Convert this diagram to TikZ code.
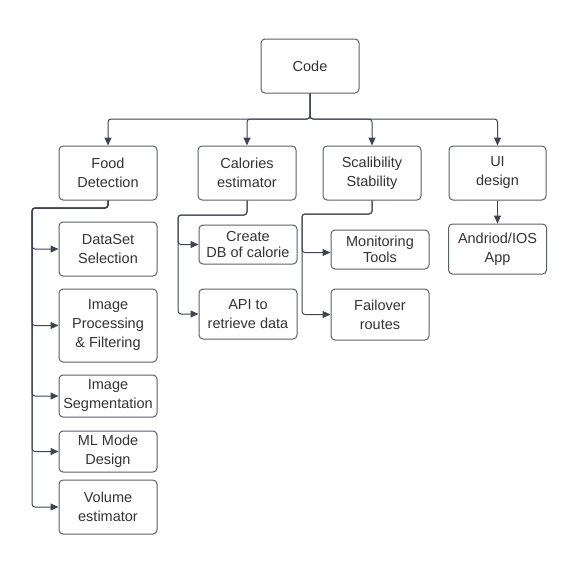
\documentclass[tikz,border=0pt]{standalone}
\usepackage{fontspec}
\setmainfont{Liberation Sans}
\usetikzlibrary{arrows.meta}
\definecolor{linec}{HTML}{3E4451}
\definecolor{boxc}{HTML}{5C6068}
\definecolor{txtc}{HTML}{333333}
\tikzset{
  box/.style={draw=boxc, line width=1pt, rounded corners=4pt, fill=white,
    minimum width=98pt, inner sep=0pt, align=center, text=txtc,
    font=\fontsize{14.5}{19}\selectfont},
  tight/.style={font=\fontsize{14.5}{16.5}\selectfont},
  conn/.style={draw=linec, line width=1pt, rounded corners=3pt},
  arr/.style={conn, -{Triangle[length=8pt,width=7pt]}}
}
\begin{document}
\begin{tikzpicture}[x=1pt,y=-1pt]
\useasboundingbox (0,0) rectangle (587,574);
% root
\node[box, minimum height=54pt] (code) at (310,66) {Code};
% level 1
\node[box, minimum height=54pt] (food) at (108,173) {Food\\Detection};
\node[box, minimum height=54pt] (cal) at (247,173) {Calories\\estimator};
\node[box, minimum height=54pt] (scal) at (372,173) {Scalibility\\Stability};
\node[box, minimum height=54pt, minimum width=97pt] (ui) at (497.5,173) {UI\\design};
% food children
\node[box, minimum height=54pt] (data) at (108,249) {DataSet\\Selection};
\node[box, minimum height=73pt] (proc) at (108,325.5) {Image\\Processing\\\& Filtering};
\node[box, minimum height=42pt] (seg) at (108,396) {Image\\Segmentation};
\node[box, minimum height=41pt] (ml) at (108,451.5) {ML Mode\\Design};
\node[box, minimum height=54pt] (vol) at (108,507) {Volume\\estimator};
% calories children
\node[box, tight, minimum height=39pt] (db) at (248,244.5) {Create\\DB of calorie};
\node[box, minimum height=50pt] (api) at (248,314) {API to\\retrieve data};
% scal children
\node[box, tight, minimum height=39pt] (mon) at (380,249.5) {Monitoring\\Tools};
\node[box, minimum height=51pt] (fail) at (380,314.5) {Failover\\routes};
% ui child
\node[box, minimum height=50pt] (app) at (497.5,249) {Andriod/IOS\\App};
% hubs
\coordinate (hub) at (310,119);
\coordinate (fh) at (32,208);
\coordinate (ch) at (178,215);
\coordinate (sh) at (302,214);
% root connectors
\draw[arr] (code.south) -- (hub) -| (food.north);
\draw[arr] (code.south) -- (hub) -| (cal.north);
\draw[arr] (code.south) -- (hub) -| (scal.north);
\draw[arr] (code.south) -- (hub) -| (ui.north);
% food connectors
\foreach \t in {data,proc,seg,ml,vol}{
  \draw[arr] (food.south) |- (fh) |- (\t.west);
}
% calories connectors
\draw[arr] (cal.south) |- (ch) |- (db.west);
\draw[arr] (cal.south) |- (ch) |- (api.west);
% scal connectors
\draw[arr] (scal.south) |- (sh) |- ([yshift=-3pt]mon.west);
\draw[arr] (scal.south) |- (sh) |- (fail.west);
% ui connector
\draw[arr] (ui.south) -- (app.north);
\end{tikzpicture}
\end{document}
